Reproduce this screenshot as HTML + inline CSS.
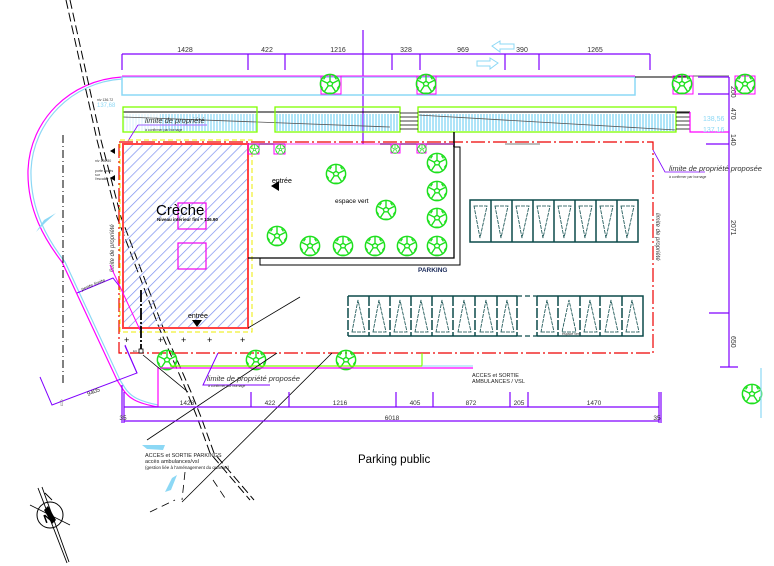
<!DOCTYPE html>
<html><head><meta charset="utf-8"><style>
html,body{margin:0;padding:0;background:#fff;}
svg{display:block;font-family:"Liberation Sans",sans-serif;}
</style></head><body>
<svg width="774" height="566" viewBox="0 0 774 566" xmlns="http://www.w3.org/2000/svg">
<defs>
<pattern id="hatch" patternUnits="userSpaceOnUse" width="7" height="7" patternTransform="rotate(45)">
<line x1="0" y1="0" x2="0" y2="7" stroke="#7b8ff0" stroke-width="1.4"/>
</pattern>
<pattern id="ramp" patternUnits="userSpaceOnUse" width="3" height="20">
<line x1="1" y1="0" x2="1" y2="20" stroke="#8cd8f5" stroke-width="1.4"/>
</pattern>
<symbol id="tree" viewBox="-12 -12 24 24">
<circle r="10.5" fill="none" stroke="#1ee01e" stroke-width="1.6"/>
<path d="M0,-10 L0,-3 M-9,-4 L-3,-1 M9,-4 L3,-1 M-6,8 L-2,2 M6,8 L2,2 M-3,-1 L0,-3 L3,-1 L2,2 L-2,2 Z M-5,-8 L-7,-5 M5,-8 L7,-5 M-10,2 L-8,5 M10,2 L8,5 M-2,10 L2,10" fill="none" stroke="#1ee01e" stroke-width="1.5"/>
</symbol>
</defs>

<path d="M122,77 C70,80 30,120 28,170 C27,210 45,240 62,262 L117,380 L122,388 C128,398 136,403 158,407" fill="none" stroke="#f0f" stroke-width="1.2"/>
<path d="M122,79 C72,82 33,122 31,170 C30,210 48,240 65,262 L120,380 L125,388 C131,397 139,401 158,405" fill="none" stroke="#8cd8f5" stroke-width="1.2"/>
<path d="M158,367 L158,407" stroke="#f0f" stroke-width="1.2"/>
<path d="M36,232 L44,220 L56,213 L46,222 Z" fill="#8cd8f5"/>
<line x1="63" y1="135" x2="63" y2="383" stroke="#000" stroke-width="1" stroke-dasharray="8,3,1,3"/>
<path d="M40,377 L52,405 L137,373 L125,346" fill="none" stroke="#8000ff" stroke-width="1"/>
<path d="M77,293 L113,278 L120,287" fill="none" stroke="#8000ff" stroke-width="1"/>
<text x="88" y="396" font-size="6" transform="rotate(-22 88 396)" fill="#333">9405</text>
<text x="82" y="291" font-size="5" transform="rotate(-22 82 291)" fill="#333">pente limite</text>
<text x="58" y="406" font-size="9" fill="#888">⇧</text>

<path d="M66,0 L97,140 L117,217 L160,330 L187,392 L197,417 L210,453 L250,500" fill="none" stroke="#000" stroke-width="1" stroke-dasharray="9,4"/>
<path d="M70,0 L101,140 L121,217 L164,330 L191,392 L201,417 L214,453 L254,500" fill="none" stroke="#000" stroke-width="1" stroke-dasharray="9,4"/>

<line x1="122" y1="54" x2="650" y2="54" stroke="#8000ff" stroke-width="1.3"/>
<g stroke="#8000ff" stroke-width="1.2">
<line x1="122" y1="54" x2="122" y2="70"/><line x1="248" y1="54" x2="248" y2="70"/><line x1="285" y1="54" x2="285" y2="70"/>
<line x1="392" y1="54" x2="392" y2="70"/><line x1="420" y1="54" x2="420" y2="70"/><line x1="505" y1="54" x2="505" y2="70"/>
<line x1="539" y1="54" x2="539" y2="70"/><line x1="650" y1="54" x2="650" y2="70"/>
<line x1="363" y1="30" x2="363" y2="144"/>
</g>
<g font-size="7" fill="#333" text-anchor="middle">
<text x="185" y="52">1428</text><text x="267" y="52">422</text><text x="338" y="52">1216</text>
<text x="406" y="52">328</text><text x="463" y="52">969</text><text x="522" y="52">390</text><text x="595" y="52">1265</text>
</g>
<path d="M492,46 L500,41 L500,44 L514,44 L514,49 L500,49 L500,52 Z" fill="none" stroke="#8cd8f5" stroke-width="1"/>
<path d="M498,63 L490,58 L490,61 L477,61 L477,66 L490,66 L490,69 Z" fill="none" stroke="#8cd8f5" stroke-width="1"/>

<rect x="122" y="77" width="513" height="18" fill="none" stroke="#8cd8f5" stroke-width="1.5"/>
<line x1="122" y1="76" x2="635" y2="76" stroke="#f0f" stroke-width="1"/>
<line x1="635" y1="77" x2="690" y2="77" stroke="#000" stroke-width="1"/>
<line x1="693" y1="76" x2="729" y2="76" stroke="#999" stroke-width="1.5"/>
<g stroke="#8000ff" stroke-width="1.2">
<line x1="698" y1="77" x2="729" y2="77"/><line x1="698" y1="94" x2="729" y2="94"/>
<line x1="729" y1="77" x2="729" y2="360"/>
<line x1="706" y1="144" x2="729" y2="144"/><line x1="709" y1="313" x2="729" y2="313"/>
<line x1="720" y1="367" x2="738" y2="367"/><line x1="729" y1="360" x2="729" y2="367"/>
</g>
<g font-size="7" fill="#333">
<text x="731" y="86" transform="rotate(90 731 86)">200</text>
<text x="731" y="108" transform="rotate(90 731 108)">470</text>
<text x="731" y="134" transform="rotate(90 731 134)">140</text>
<text x="731" y="220" transform="rotate(90 731 220)">2071</text>
<text x="731" y="336" transform="rotate(90 731 336)">650</text>
</g>

<rect x="123" y="114" width="134" height="17" fill="url(#ramp)" opacity="0.25"/>
<rect x="160" y="114" width="97" height="17" fill="url(#ramp)" opacity="0.8"/>
<rect x="275" y="114" width="125" height="17" fill="url(#ramp)"/>
<rect x="418" y="114" width="258" height="17" fill="url(#ramp)"/>
<path d="M123,112 L400,112 M418,112 L690,112" stroke="#000" stroke-width="1"/>
<path d="M123,117 L390,127 M418,115 L676,130" stroke="#555" stroke-width="0.8"/>
<rect x="123" y="107" width="134" height="25" fill="none" stroke="#7fff00" stroke-width="1.3"/>
<rect x="275" y="107" width="125" height="25" fill="none" stroke="#7fff00" stroke-width="1.3"/>
<rect x="418" y="107" width="258" height="25" fill="none" stroke="#7fff00" stroke-width="1.3"/>
<g stroke="#000" stroke-width="0.8">
<path d="M400,113 H418 M400,117 H418 M400,121 H418 M400,125 H418 M400,129 H418"/>
<path d="M676,113 H690 M676,117 H690 M676,121 H690 M676,125 H690 M676,129 H690"/>
</g>
<path d="M690,112 V132 H729" fill="none" stroke="#f0f" stroke-width="1.2"/>
<text x="703" y="121" font-size="7" fill="#8cd8f5">138,56</text>
<text x="703" y="132" font-size="7" fill="#8cd8f5">137,16</text>
<text x="97" y="101" font-size="3.5" fill="#333">niv 136.72</text>
<text x="97" y="107" font-size="6" fill="#8cd8f5">137,68</text>
<text x="95" y="162" font-size="3.5" fill="#333">niv 136.80</text>
<text x="95" y="172" font-size="3.5" fill="#333">porte accès</text>
<text x="95" y="176" font-size="3.5" fill="#333">sur</text>
<text x="95" y="180" font-size="3.5" fill="#333">l'escalier</text>
<path d="M115,148 L110,151 L115,154 Z M115,175 L110,178 L115,181 Z" fill="#000"/>

<text x="145" y="123" font-size="7.5" font-style="italic" fill="#333">limite de propriété</text>
<line x1="138" y1="125" x2="207" y2="125" stroke="#b080ff" stroke-width="1.2"/>
<path d="M138,125 L128,141" stroke="#8000ff" stroke-width="0.8"/>
<text x="145" y="131" font-size="3.5" fill="#333">à confirmer par bornage</text>

<rect x="119" y="142" width="534" height="211" fill="none" stroke="#e00" stroke-width="1.2" stroke-dasharray="14,3,2,3"/>
<rect x="120" y="140" width="132" height="192" fill="none" stroke="#ee0" stroke-width="1" stroke-dasharray="5,3"/>
<rect x="123" y="144" width="125" height="184" fill="url(#hatch)" stroke="#f44" stroke-width="2"/>
<rect x="178" y="203" width="28" height="26" fill="none" stroke="#e0e" stroke-width="1.2"/>
<rect x="178" y="243" width="28" height="26" fill="none" stroke="#e0e" stroke-width="1.2"/>
<text x="156" y="215" font-size="15" fill="#000">Crèche</text>
<text x="157" y="221" font-size="4.5" fill="#000" font-weight="bold">Niveau intérieur fini = 136.90</text>
<text x="188" y="318" font-size="7" fill="#000">entrée</text>
<path d="M192,320 L202,320 L197,327 Z" fill="#000"/>
<text x="272" y="183" font-size="7" fill="#000">entrée</text>
<path d="M271,186 L279,181 L279,191 Z" fill="#000"/>
<text x="335" y="203" font-size="6.5" fill="#000">espace vert</text>

<path d="M248,144 H285 M380,144 H454 V258 H248" fill="none" stroke="#000" stroke-width="1.3"/>
<path d="M260,258 V265 H460 V147 H454" fill="none" stroke="#000" stroke-width="1"/>
<line x1="454" y1="132" x2="454" y2="147" stroke="#000" stroke-width="1.5"/>
<line x1="248" y1="144" x2="454" y2="144" stroke="#e0e" stroke-width="0.8"/>
<line x1="505" y1="144" x2="540" y2="144" stroke="#777" stroke-width="1"/>
<text x="418" y="272" font-size="6.5" font-weight="bold" fill="#1a2a5a">PARKING</text>

<g>
<rect x="321" y="76" width="20" height="18" fill="none" stroke="#f0f"/>
<rect x="417" y="76" width="19" height="18" fill="none" stroke="#f0f"/>
<rect x="673" y="76" width="20" height="18" fill="none" stroke="#f0f"/>
<rect x="735" y="76" width="20" height="18" fill="none" stroke="#f0f"/>
<rect x="248" y="144" width="11" height="10" fill="none" stroke="#f0f"/>
<rect x="274" y="144" width="11" height="10" fill="none" stroke="#f0f"/>
<rect x="391" y="144" width="9" height="9" fill="none" stroke="#f0f"/>
<rect x="417" y="144" width="9" height="9" fill="none" stroke="#f0f"/>
</g>
<use href="#tree" x="319" y="73" width="22" height="22"/>
<use href="#tree" x="415" y="73" width="22" height="22"/>
<use href="#tree" x="671" y="73" width="22" height="22"/>
<use href="#tree" x="734" y="73" width="22" height="22"/>
<use href="#tree" x="249" y="144" width="11" height="11"/>
<use href="#tree" x="275" y="144" width="11" height="11"/>
<use href="#tree" x="390" y="144" width="10" height="10"/>
<use href="#tree" x="417" y="144" width="10" height="10"/>
<use href="#tree" x="325" y="163" width="22" height="22"/>
<use href="#tree" x="426" y="152" width="22" height="22"/>
<use href="#tree" x="426" y="180" width="22" height="22"/>
<use href="#tree" x="375" y="199" width="22" height="22"/>
<use href="#tree" x="426" y="207" width="22" height="22"/>
<use href="#tree" x="266" y="225" width="22" height="22"/>
<use href="#tree" x="299" y="235" width="22" height="22"/>
<use href="#tree" x="332" y="235" width="22" height="22"/>
<use href="#tree" x="364" y="235" width="22" height="22"/>
<use href="#tree" x="396" y="235" width="22" height="22"/>
<use href="#tree" x="426" y="235" width="22" height="22"/>
<use href="#tree" x="156" y="349" width="22" height="22"/>
<use href="#tree" x="245" y="349" width="22" height="22"/>
<use href="#tree" x="335" y="349" width="22" height="22"/>
<use href="#tree" x="741" y="383" width="22" height="22"/>
<line x1="761" y1="368" x2="761" y2="418" stroke="#8cd8f5" stroke-width="1.2"/>

<g fill="none" stroke="#0b4a4a">
<rect x="470" y="200" width="168" height="42" stroke-width="1.5"/>
<path d="M491,200 V242 M512,200 V242 M533,200 V242 M554,200 V242 M575,200 V242 M596,200 V242 M617,200 V242" stroke-width="1.5"/>
<g stroke-width="0.8" stroke-dasharray="4,1">
<path d="M474,206 H487 L480,238 Z"/><path d="M495,206 H508 L501,238 Z"/><path d="M516,206 H529 L522,238 Z"/><path d="M537,206 H550 L543,238 Z"/>
<path d="M558,206 H571 L564,238 Z"/><path d="M579,206 H592 L585,238 Z"/><path d="M600,206 H613 L606,238 Z"/><path d="M621,206 H634 L627,238 Z"/>
</g>
</g>
<g fill="none" stroke="#0b4a4a">
<path d="M348,296 H517 M348,336 H517 M537,296 H643 V336 H537" stroke-width="1.5"/>
<path d="M517,296 H537 M517,336 H537" stroke-width="1.2" stroke-dasharray="5,3"/>
<path d="M348,296 V336 M369,296 V336 M390,296 V336 M411,296 V336 M432,296 V336 M453,296 V336 M475,296 V336 M497,296 V336 M517,296 V336 M537,296 V336 M558,296 V336 M580,296 V336 M600,296 V336 M622,296 V336" stroke-width="1.5" stroke-dasharray="10,2"/>
<g stroke-width="0.8" stroke-dasharray="4,1">
<path d="M352,332 H365 L358,300 Z"/><path d="M373,332 H386 L379,300 Z"/><path d="M394,332 H407 L400,300 Z"/><path d="M415,332 H428 L421,300 Z"/>
<path d="M436,332 H449 L442,300 Z"/><path d="M458,332 H471 L464,300 Z"/><path d="M480,332 H493 L486,300 Z"/><path d="M501,332 H514 L507,300 Z"/>
<path d="M541,332 H554 L547,300 Z"/><path d="M562,332 H576 L569,300 Z"/><path d="M584,332 H597 L590,300 Z"/><path d="M605,332 H618 L611,300 Z"/><path d="M626,332 H639 L632,300 Z"/>
</g>
</g>
<text x="562" y="335" font-size="3.5" fill="#333">espace vert</text>

<path d="M653,150 L665,172 L705,172" fill="none" stroke="#8000ff" stroke-width="0.8"/>
<text x="669" y="171" font-size="7.5" font-style="italic" fill="#333">limite de propriété proposée</text>
<text x="669" y="178" font-size="3.5" fill="#333">à confirmer par bornage</text>
<text x="656" y="213" font-size="6" font-style="italic" fill="#333" transform="rotate(90 656 213)">limite de propriété</text>
<text x="114" y="272" font-size="6" font-style="italic" fill="#333" transform="rotate(-90 114 272)">limite de propriété</text>

<g font-size="9" fill="#000"><text x="124" y="343">+</text><text x="158" y="343">+</text><text x="181" y="343">+</text><text x="207" y="343">+</text><text x="240" y="343">+</text></g>
<line x1="141" y1="290" x2="141" y2="350" stroke="#000" stroke-width="1.8" stroke-dasharray="12,2,2,2"/>
<rect x="139" y="349" width="4" height="4" fill="#fff" stroke="#000" stroke-width="0.8"/>
<text x="133" y="352" font-size="3" fill="#333">EU</text>
<path d="M110,265 L140,330" stroke="#f0f" stroke-width="1"/>
<path d="M125,345 L137,373" stroke="#8000ff" stroke-width="1"/>
<polyline points="170,366 422,366 422,353" fill="none" stroke="#7fff00" stroke-width="1.2"/>
<line x1="160" y1="368" x2="473" y2="368" stroke="#f0f" stroke-width="1.2"/>
<line x1="422" y1="366" x2="473" y2="366" stroke="#8cd8f5" stroke-width="1"/>
<path d="M300,297 L248,328" stroke="#000" stroke-width="0.8"/>
<path d="M277,353 L147,440" stroke="#000" stroke-width="0.8"/>
<path d="M332,353 L182,502" stroke="#000" stroke-width="0.8"/>
<path d="M143,355 L188,392" stroke="#000" stroke-width="0.8"/>
<path d="M218,353 L203,385 L270,385" fill="none" stroke="#8000ff" stroke-width="1"/>
<text x="207" y="381" font-size="7.5" font-style="italic" fill="#333">limite de propriété proposée</text>
<text x="208" y="387" font-size="3.5" fill="#333">à confirmer par bornage</text>
<text x="472" y="377" font-size="5.5" fill="#222">ACCES et SORTIE</text>
<text x="472" y="383" font-size="5.5" fill="#222">AMBULANCES / VSL</text>

<g stroke="#8000ff" stroke-width="1.2">
<line x1="124" y1="407" x2="659" y2="407"/><line x1="124" y1="421" x2="659" y2="421"/>
<line x1="122" y1="385" x2="122" y2="423"/><line x1="124" y1="392" x2="124" y2="423"/>
<line x1="251" y1="392" x2="251" y2="407"/><line x1="289" y1="392" x2="289" y2="407"/>
<line x1="396" y1="392" x2="396" y2="407"/><line x1="433" y1="392" x2="433" y2="407"/>
<line x1="510" y1="392" x2="510" y2="407"/><line x1="528" y1="392" x2="528" y2="407"/>
<line x1="659" y1="392" x2="659" y2="423"/><line x1="661" y1="392" x2="661" y2="423"/>
</g>
<g font-size="6.5" fill="#333" text-anchor="middle">
<text x="187" y="405">1428</text><text x="270" y="405">422</text><text x="340" y="405">1216</text><text x="415" y="405">405</text>
<text x="471" y="405">872</text><text x="519" y="405">205</text><text x="594" y="405">1470</text>
<text x="392" y="420">6018</text><text x="123" y="420">35</text><text x="657" y="420">35</text>
</g>

<path d="M142,445 L165,445 L163,450 L147,449 Z" fill="#8cd8f5"/>
<path d="M165,492 L172,478 L177,475 L171,490 Z" fill="#8cd8f5"/>
<path d="M185,472 L182,500 M213,480 L225,498 M150,512 L175,500" stroke="#000" stroke-width="0.8" stroke-dasharray="8,5"/>
<text x="145" y="457" font-size="5.5" fill="#222">ACCES et SORTIE PARKINGS</text>
<text x="145" y="463" font-size="5.5" fill="#222">accès ambulances/vsl</text>
<text x="145" y="469" font-size="4.5" fill="#222">(gestion liée à l'aménagement du quartier)</text>
<text x="358" y="463" font-size="11.5" fill="#000">Parking public</text>

<circle cx="50" cy="515" r="13" fill="none" stroke="#000" stroke-width="1"/>
<path d="M30,505 L70,525" stroke="#000" stroke-width="0.8"/>
<path d="M38,488 L67,563 M42,487 L69,562 M45,493 L52,500" stroke="#000" stroke-width="0.9"/>
<path d="M44,510 L48,506 L56,520 L52,524 Z" fill="#000"/>
<text x="43" y="522" font-size="12" font-weight="bold" fill="#000" transform="rotate(-20 48 516)">N</text>
</svg>
</body></html>
